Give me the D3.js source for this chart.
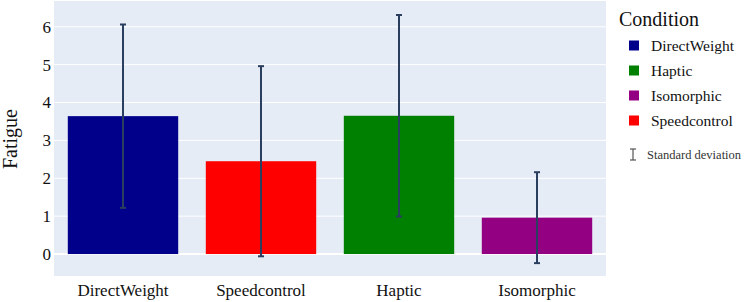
<!DOCTYPE html>
<html>
<head>
<meta charset="utf-8">
<script src="https://cdn.jsdelivr.net/npm/d3@7"></script>
<style>
  body { margin: 0; background: #fff; }
  svg { display: block; }
</style>
</head>
<body>
<script>
// bar order on the x axis
const conditions = ["DirectWeight", "Speedcontrol", "Haptic", "Isomorphic"];
const means = [3.64, 2.45, 3.65, 0.96];
const sds = [2.42, 2.51, 2.66, 1.20];
// legend order
const legendItems = ["DirectWeight", "Haptic", "Isomorphic", "Speedcontrol"];
const colors = {
  DirectWeight: "#00008b",
  Speedcontrol: "#ff0000",
  Haptic: "#008000",
  Isomorphic: "#930082"
};
const yTicks = [0, 1, 2, 3, 4, 5, 6];

const serif = "'Liberation Serif', 'Times New Roman', serif";
const width = 754, height = 302;
const margin = {top: 1, right: 148, bottom: 26, left: 54};

const svg = d3.select("body").append("svg")
    .attr("width", width)
    .attr("height", height)
    .attr("font-family", serif);

const x = d3.scaleBand()
    .domain(conditions)
    .range([margin.left, width - margin.right])
    .paddingInner(0.2)
    .paddingOuter(0.1);

const y = d3.scaleLinear()
    .domain([-0.58, 6.68])
    .range([height - margin.bottom, margin.top]);

// plot background
svg.append("rect")
    .attr("x", margin.left)
    .attr("y", margin.top)
    .attr("width", width - margin.right - margin.left)
    .attr("height", height - margin.bottom - margin.top)
    .attr("fill", "#e5ecf6");

// grid lines
svg.append("g")
    .selectAll("line")
    .data(yTicks)
    .join("line")
    .attr("x1", margin.left)
    .attr("x2", width - margin.right)
    .attr("y1", function(d) { return y(d); })
    .attr("y2", function(d) { return y(d); })
    .attr("stroke", "#fff")
    .attr("stroke-width", function(d) { return d === 0 ? 2 : 1; });

// y tick labels
svg.append("g")
    .selectAll("text")
    .data(yTicks)
    .join("text")
    .attr("x", margin.left - 3)
    .attr("y", function(d) { return y(d); })
    .attr("dy", "0.35em")
    .attr("text-anchor", "end")
    .attr("font-size", 17)
    .attr("fill", "#111")
    .text(function(d) { return d; });

// y axis title
svg.append("text")
    .attr("transform", "translate(17,139) rotate(-90)")
    .attr("text-anchor", "middle")
    .attr("font-size", 20)
    .attr("fill", "#111")
    .text("Fatigue");

// bars
svg.append("g")
    .selectAll("rect")
    .data(conditions)
    .join("rect")
    .attr("x", function(d) { return x(d); })
    .attr("width", x.bandwidth())
    .attr("y", function(d, i) { return y(means[i]); })
    .attr("height", function(d, i) { return y(0) - y(means[i]); })
    .attr("fill", function(d) { return colors[d]; });

// error bars
const err = svg.append("g")
    .attr("stroke", "#2a3f5f")
    .attr("stroke-width", 2);

conditions.forEach(function(c, i) {
    const cx = x(c) + x.bandwidth() / 2;
    const top = y(means[i] + sds[i]);
    const bot = y(means[i] - sds[i]);
    err.append("line").attr("x1", cx).attr("x2", cx).attr("y1", top).attr("y2", bot);
    err.append("line").attr("x1", cx - 3).attr("x2", cx + 3).attr("y1", top).attr("y2", top);
    err.append("line").attr("x1", cx - 3).attr("x2", cx + 3).attr("y1", bot).attr("y2", bot);
});

// x tick labels
svg.append("g")
    .selectAll("text")
    .data(conditions)
    .join("text")
    .attr("x", function(d) { return x(d) + x.bandwidth() / 2; })
    .attr("y", 296)
    .attr("text-anchor", "middle")
    .attr("font-size", 17)
    .attr("fill", "#111")
    .text(function(d) { return d; });

// legend
const legend = svg.append("g");

legend.append("text")
    .attr("x", 619)
    .attr("y", 26)
    .attr("font-size", 20)
    .attr("fill", "#111")
    .text("Condition");

const item = legend.selectAll("g.item")
    .data(legendItems)
    .join("g")
    .attr("class", "item")
    .attr("transform", function(d, i) { return "translate(0," + (45.5 + i * 25) + ")"; });

item.append("rect")
    .attr("x", 629)
    .attr("y", -5)
    .attr("width", 10)
    .attr("height", 10)
    .attr("fill", function(d) { return colors[d]; });

item.append("text")
    .attr("x", 651)
    .attr("y", 0)
    .attr("dy", "0.35em")
    .attr("font-size", 15.5)
    .attr("fill", "#111")
    .text(function(d) { return d; });

// standard deviation key
const sdKey = legend.append("g")
    .attr("stroke", "#555")
    .attr("stroke-width", 1.2);
sdKey.append("line").attr("x1", 633).attr("x2", 633).attr("y1", 149).attr("y2", 160);
sdKey.append("line").attr("x1", 630).attr("x2", 636).attr("y1", 149).attr("y2", 149);
sdKey.append("line").attr("x1", 630).attr("x2", 636).attr("y1", 160).attr("y2", 160);

legend.append("text")
    .attr("x", 647)
    .attr("y", 155)
    .attr("dy", "0.35em")
    .attr("font-size", 12.5)
    .attr("fill", "#333")
    .text("Standard deviation");
</script>
</body>
</html>
